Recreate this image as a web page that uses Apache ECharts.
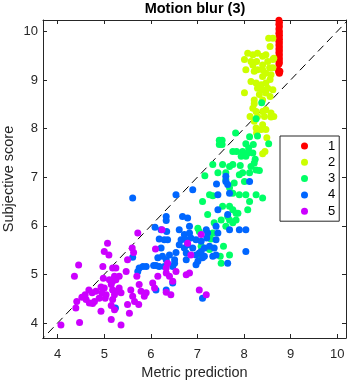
<!DOCTYPE html>
<html>
<head>
<meta charset="utf-8">
<script src="https://cdn.jsdelivr.net/npm/echarts@6/dist/echarts.min.js"></script>
<style>
  html, body { margin: 0; padding: 0; background: #fff; }
  #main { width: 351px; height: 385px; }
</style>
</head>
<body>
<div id="main"></div>
<script>
// groups 1..5, [metric prediction, subjective score]
var group1 = [
  [8.75, 10.23], [8.76, 10.19], [8.75, 10.15], [8.76, 10.10], [8.75, 10.05], [8.76, 10.00],
  [8.75, 9.96], [8.76, 9.92], [8.75, 9.88], [8.76, 9.84], [8.75, 9.80], [8.76, 9.76],
  [8.75, 9.72], [8.76, 9.68], [8.75, 9.64], [8.76, 9.60], [8.75, 9.56], [8.76, 9.52],
  [8.75, 9.48], [8.76, 9.44], [8.75, 9.40], [8.76, 9.36], [8.75, 9.33], [8.74, 9.20],
  [8.77, 9.18], [8.75, 9.16], [8.76, 9.14]
];
var group2 = [
  [8.53, 9.86], [8.62, 9.86], [8.56, 9.69], [8.08, 9.55], [8.19, 9.52], [8.29, 9.55],
  [8.40, 9.49], [8.47, 9.52], [8.01, 9.42], [8.15, 9.38], [8.27, 9.38], [8.40, 9.31],
  [8.51, 9.38], [8.62, 9.42], [8.64, 9.45], [8.19, 9.31], [8.29, 9.21], [8.40, 9.21],
  [8.55, 9.25], [8.62, 9.25], [8.04, 9.21], [8.22, 9.18], [8.47, 9.14], [8.58, 9.11],
  [8.40, 9.07], [8.15, 8.97], [8.01, 8.74], [8.26, 8.94], [8.37, 8.90], [8.47, 8.94],
  [8.56, 9.01], [8.29, 8.83], [8.40, 8.80], [8.51, 8.83], [8.62, 8.80], [8.47, 8.73],
  [8.33, 8.70], [8.56, 8.66], [8.40, 8.59], [8.22, 8.59], [8.22, 8.51], [8.19, 8.42],
  [8.26, 8.35], [8.40, 8.35], [8.47, 8.39], [8.58, 8.32], [8.13, 8.25], [8.29, 8.25],
  [8.44, 8.25], [8.58, 8.24], [8.64, 8.25], [8.22, 8.15], [8.40, 8.08], [8.26, 8.01],
  [8.37, 7.98], [8.27, 7.91], [8.47, 7.98], [8.49, 7.81], [8.45, 7.53], [8.40, 7.48]
];
var group3 = [
  [8.38, 8.53], [8.26, 8.20], [8.29, 7.85], [7.82, 7.91], [7.47, 7.76], [7.53, 7.76],
  [7.47, 7.67], [7.53, 7.67], [8.12, 7.83], [8.04, 7.69], [8.10, 7.60], [8.20, 7.67],
  [8.53, 7.69], [7.76, 7.53], [7.84, 7.53], [7.97, 7.53], [8.08, 7.50], [7.94, 7.43],
  [8.04, 7.43], [8.19, 7.50], [8.24, 7.37], [8.22, 7.29], [8.15, 7.22], [8.26, 7.15],
  [7.33, 7.26], [7.54, 7.26], [7.69, 7.22], [7.76, 7.26], [7.92, 7.24], [7.97, 7.09],
  [7.16, 7.03], [7.44, 7.09], [7.61, 7.09], [7.90, 7.05], [8.12, 7.09], [8.33, 7.14],
  [7.61, 6.95], [7.79, 6.88], [8.01, 6.91], [7.69, 6.78], [7.76, 6.67], [7.90, 6.64],
  [8.04, 6.64], [7.11, 6.50], [7.26, 6.64], [7.33, 6.62], [7.54, 6.40], [7.69, 6.40],
  [7.76, 6.33], [7.87, 6.26], [8.08, 6.33], [8.26, 6.64], [8.40, 6.57], [8.12, 6.50],
  [7.22, 6.23], [7.51, 6.12], [7.65, 6.19], [7.69, 6.12], [7.83, 6.12], [7.76, 6.06],
  [7.83, 6.26], [7.61, 5.99], [7.01, 5.95], [7.04, 5.88], [7.33, 5.85], [7.29, 5.73],
  [7.26, 5.51], [7.56, 5.58], [7.69, 5.40], [7.08, 5.58], [7.49, 5.37], [7.51, 5.23],
  [7.04, 5.37], [7.36, 6.06]
];
var group4 = [
  [5.61, 6.57], [6.54, 6.64], [6.90, 6.74], [6.68, 6.19], [6.79, 6.16], [6.83, 5.99],
  [6.09, 5.97], [6.22, 5.92], [6.33, 6.19], [6.33, 6.11], [6.34, 5.88], [6.36, 5.71],
  [6.18, 5.73], [6.22, 5.54], [6.25, 5.37], [6.11, 5.18], [6.18, 5.16], [6.29, 5.16],
  [6.06, 5.18], [6.40, 5.40], [6.51, 5.30], [6.51, 5.23], [6.47, 5.16], [6.47, 4.82],
  [6.61, 5.92], [6.65, 5.71], [6.61, 5.61], [6.72, 5.82], [6.72, 5.54], [6.79, 5.61],
  [6.76, 5.44], [6.76, 5.30], [6.83, 5.85], [6.86, 5.75], [6.90, 5.54], [6.97, 5.20],
  [6.97, 5.40], [7.01, 5.27], [7.04, 5.44], [7.08, 5.47], [7.11, 5.34], [7.15, 5.37],
  [6.97, 5.71], [7.08, 5.68], [7.15, 5.54], [7.22, 5.85], [7.20, 5.75], [7.19, 5.92],
  [7.26, 5.58], [7.33, 5.37], [7.40, 5.40], [7.36, 5.54], [7.40, 5.71], [7.44, 5.85],
  [7.40, 5.99], [7.44, 6.64], [7.41, 6.86], [7.61, 7.02], [7.61, 6.91], [7.65, 6.85],
  [7.69, 6.67], [7.65, 6.23], [7.69, 5.92], [7.90, 5.92], [8.04, 5.92], [8.12, 6.91],
  [8.04, 5.47], [7.65, 5.23], [7.11, 4.51], [5.61, 5.35], [5.75, 5.13], [5.83, 5.16],
  [5.72, 5.06], [5.90, 5.16], [6.11, 4.68], [6.33, 4.68], [5.24, 4.31], [7.44, 6.33],
  [6.54, 5.45], [6.76, 5.71], [6.15, 5.34], [6.29, 5.71], [6.33, 5.30]
];
var group5 = [
  [4.07, 3.96], [4.47, 4.01], [4.39, 4.31], [4.41, 4.44], [4.36, 4.96], [4.45, 5.19],
  [4.52, 4.53], [4.59, 4.58], [4.67, 4.68], [4.74, 4.62], [4.82, 4.65], [4.79, 4.44],
  [4.61, 4.48], [4.75, 4.40], [4.89, 4.51], [4.93, 4.74], [4.95, 4.62], [5.00, 4.72],
  [5.04, 4.58], [4.93, 4.24], [5.02, 4.51], [4.98, 4.92], [4.97, 5.16], [5.00, 5.47],
  [5.10, 5.40], [5.07, 5.64], [5.11, 4.89], [5.15, 4.79], [5.18, 4.86], [5.22, 4.96],
  [5.25, 4.89], [5.18, 4.68], [5.22, 4.58], [5.25, 4.65], [5.18, 4.48], [5.15, 4.36],
  [5.22, 4.27], [5.15, 4.07], [5.32, 4.72], [5.36, 4.62], [5.32, 4.96], [5.25, 5.13],
  [5.18, 5.13], [5.36, 3.96], [5.47, 5.06], [5.50, 5.30], [5.50, 4.38], [5.54, 4.20],
  [5.57, 4.68], [5.61, 4.55], [5.65, 4.44], [5.60, 5.54], [5.63, 5.45], [5.72, 5.85],
  [5.70, 4.96], [5.75, 4.79], [5.79, 4.65], [5.86, 4.55], [5.90, 4.62], [5.74, 4.38],
  [6.04, 4.82], [6.08, 4.72], [6.15, 4.96], [6.10, 5.52], [6.33, 5.13], [6.33, 5.03],
  [6.36, 5.23], [6.40, 4.96], [6.47, 4.86], [6.24, 5.92], [6.33, 4.63], [6.43, 4.58],
  [6.54, 5.06], [6.79, 5.64], [6.86, 5.40], [6.83, 5.03], [6.76, 4.99], [7.08, 5.82],
  [7.04, 4.68], [7.19, 4.58], [4.68, 4.41]
];
var groupNames = ['1', '2', '3', '4', '5'];
var tickValues = [4, 5, 6, 7, 8, 9, 10];
var diagLine = [[3.6, 3.6], [10.3, 10.3]];

var groups = [group1, group2, group3, group4, group5];
var groupColors = ['#ff0000', '#ccff00', '#00ff66', '#0066ff', '#cc00ff'];
var axisColor = '#262626';
var font = '"Liberation Sans", Arial, sans-serif';

var myChart = echarts.init(document.getElementById('main'));

function boxAxis(pos, min, max, withLabels) {
  return {
    type: 'value',
    position: pos,
    min: min,
    max: max,
    axisLine: { show: true, onZero: false, lineStyle: { color: axisColor, width: 1 } },
    axisTick: { show: true, inside: true, length: 4, customValues: tickValues, lineStyle: { color: axisColor } },
    axisLabel: withLabels ? {
      customValues: tickValues,
      fontSize: 13,
      fontFamily: font,
      color: axisColor,
      margin: pos === 'bottom' ? 10 : 5
    } : { show: false },
    splitLine: { show: false }
  };
}

var xBottom = boxAxis('bottom', 3.685, 10.19, true);
xBottom.name = 'Metric prediction';
xBottom.nameLocation = 'middle';
xBottom.nameGap = 27;
xBottom.nameMoveOverlap = false;
xBottom.nameTextStyle = { fontSize: 14.5, fontFamily: font, color: axisColor };

var yLeft = boxAxis('left', 3.69, 10.235, true);
yLeft.name = 'Subjective score';
yLeft.nameLocation = 'middle';
yLeft.nameGap = 27;
yLeft.nameMoveOverlap = false;
yLeft.nameTextStyle = { fontSize: 14.5, fontFamily: font, color: axisColor };

var series = [{
  type: 'line',
  data: diagLine,
  symbol: 'none',
  silent: true,
  clip: true,
  z: 1,
  lineStyle: { type: [8, 5], width: 1, color: '#000' }
}];
groups.forEach(function (g, i) {
  series.push({
    type: 'scatter',
    name: groupNames[i],
    data: g,
    symbol: 'circle',
    symbolSize: 7,
    z: 2,
    itemStyle: { color: groupColors[i], opacity: 1 }
  });
});

var option = {
  animation: false,
  title: {
    text: 'Motion blur (3)',
    left: 195,
    textAlign: 'center',
    top: 1,
    padding: 0,
    textStyle: { fontSize: 14.5, fontWeight: 'bold', fontFamily: font, color: '#000' }
  },
  grid: { left: 43, right: 5, top: 20, bottom: 47, outerBoundsMode: 'none' },
  xAxis: [xBottom, boxAxis('top', 3.685, 10.19, false)],
  yAxis: [yLeft, boxAxis('right', 3.69, 10.235, false)],
  legend: {
    data: groupNames.map(function (n) { return { name: n, icon: 'circle' }; }),
    orient: 'vertical',
    left: 280,
    top: 136,
    itemWidth: 7,
    itemHeight: 7,
    itemGap: 2.3,
    padding: [3, 4, 3, 21],
    borderColor: axisColor,
    borderWidth: 1,
    backgroundColor: '#fff',
    textStyle: { fontSize: 13, fontFamily: font, color: '#000', lineHeight: 14, padding: [0, 0, 0, 15] }
  },
  series: series
};
myChart.setOption(option);
</script>
</body>
</html>
